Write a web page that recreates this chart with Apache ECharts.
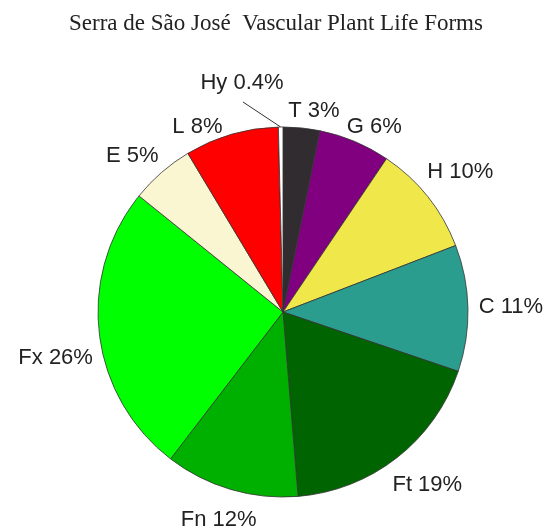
<!DOCTYPE html>
<html>
<head>
<meta charset="utf-8">
<script src="https://cdn.jsdelivr.net/npm/echarts@6/dist/echarts.min.js"></script>
<style>
  html, body { margin: 0; padding: 0; background: #fff; }
  #main { width: 552px; height: 529px; }
</style>
</head>
<body>
<div id="main"></div>
<script>
// life forms, clockwise from the top
var names = ['T', 'G', 'H', 'C', 'Ft', 'Fn', 'Fx', 'E', 'L', 'Hy'];
// slice shares
var values = [3.2, 6.25, 9.7, 11.05, 18.5, 11.7, 25.4, 5.6, 8.2, 0.4];
// percentages as printed on the labels
var pctLabels = ['3%', '6%', '10%', '11%', '19%', '12%', '26%', '5%', '8%', '0.4%'];
var colors = ['#302c30', '#800080', '#f0e84a', '#2a9d8e', '#006400', '#00b000', '#00ff00', '#fbf6d2', '#ff0000', '#ffffff'];

var HY = names.indexOf('Hy');
// small per-label shifts (px) off the mid-angle ring, like the hand-placed original
var labelNudge = [[8, 26], [3, 25], [-1, 2], [0, 0], [4, -7], [0, -11], [-1, 19], [-1, 16], [-22, 34], [0, 0]];

var chart = echarts.init(document.getElementById('main'));

var labelFont = {
  fontFamily: 'Liberation Sans, Arial, sans-serif',
  fontSize: 22,
  color: '#222'
};

function labelText(p) {
  return p.name + ' ' + pctLabels[p.dataIndex];
}

// the wedges themselves (only Hy gets its label + leader line here)
var pieData = names.map(function (n, i) {
  return {
    name: n,
    value: values[i],
    itemStyle: { color: colors[i] },
    label: { show: i === HY },
    labelLine: { show: i === HY }
  };
});

// invisible ring used only to put label centres on each slice's mid angle
var labelData = names.map(function (n, i) {
  return {
    name: n,
    value: values[i],
    label: { show: i !== HY }
  };
});

var option = {
  backgroundColor: '#ffffff',
  animation: false,
  title: {
    text: 'Serra de São José  Vascular Plant Life Forms',
    left: 'center',
    top: 7,
    textStyle: {
      fontFamily: 'Liberation Serif, Times New Roman, serif',
      fontWeight: 'normal',
      fontSize: 23,
      color: '#222'
    }
  },
  series: [{
    type: 'pie',
    center: [283, 312],
    radius: [0, 185],
    startAngle: 90,
    clockwise: true,
    silent: true,
    itemStyle: { borderColor: '#333', borderWidth: 0.8 },
    label: Object.assign({ position: 'outside', formatter: labelText }, labelFont),
    labelLine: { length: 20, length2: 10, lineStyle: { color: '#333', width: 1 } },
    labelLayout: function (p) {
      if (p.dataIndex !== HY) return;
      var x = 242, y = 83;
      var start = p.labelLinePoints ? p.labelLinePoints[0] : [281, 127];
      var end = [x + 1, y + 19];
      return {
        x: x, y: y, align: 'center', verticalAlign: 'middle',
        labelLinePoints: [start, end, end]
      };
    },
    data: pieData
  }, {
    type: 'pie',
    center: [283, 312],
    radius: [214, 236],
    startAngle: 90,
    clockwise: true,
    silent: true,
    itemStyle: { color: 'rgba(0,0,0,0)', borderWidth: 0 },
    label: Object.assign({ position: 'inside', overflow: 'none', formatter: labelText }, labelFont),
    labelLine: { show: false },
    labelLayout: function (p) {
      var d = labelNudge[p.dataIndex];
      return { dx: d[0], dy: d[1] };
    },
    emphasis: { disabled: true },
    data: labelData
  }]
};

chart.setOption(option);
</script>
</body>
</html>
